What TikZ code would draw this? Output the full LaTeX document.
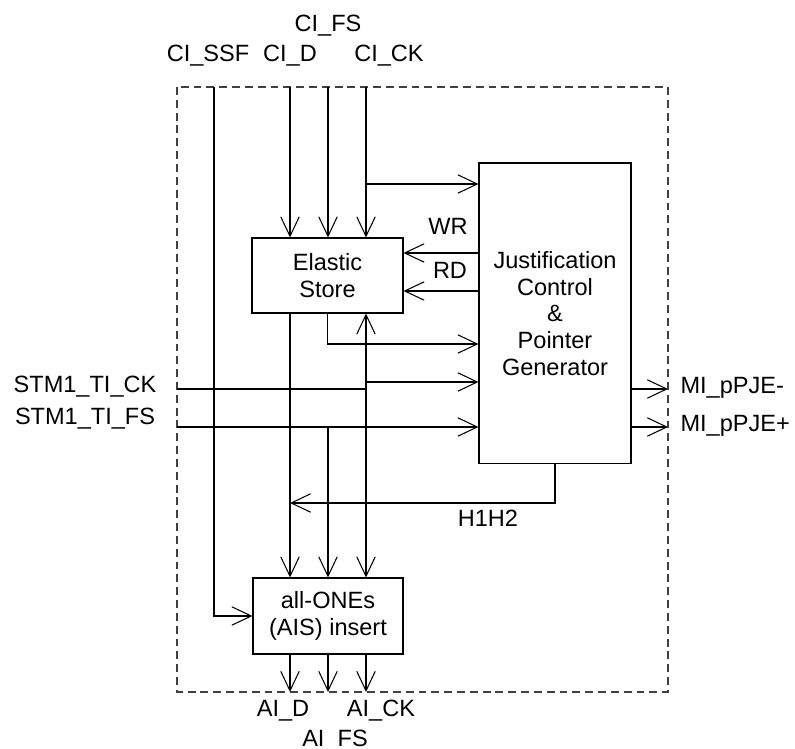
\documentclass[tikz,border=0pt]{standalone}
\usepackage{fontspec}
\setmainfont{Liberation Sans}
\usetikzlibrary{arrows.meta,positioning}

\begin{document}
\begin{tikzpicture}[x=0.02cm,y=-0.02cm,>={Straight Barb[length=3.9mm,width=3.7mm]},line width=0.6pt]
 \tikzstyle{blk}=[rectangle,draw,line width=0.6pt,align=center,font=\fontsize{13.4}{15.3}\selectfont,inner sep=0pt]
 \tikzstyle{sig}=[font=\fontsize{13.4}{15.3}\selectfont,inner sep=0pt,anchor=base]
 \useasboundingbox (0,0) rectangle (795,749);
 % frame of the block
 \draw[dash pattern=on 4.5pt off 2.8pt,black!75] (177,87) rectangle (668,692);
 \coordinate (ssfin) at (214,87);
 \coordinate (din) at (290,87);
 \coordinate (fsin) at (328,87);
 \coordinate (ckin) at (366,87);
 \coordinate (tickin) at (177,389);
 \coordinate (tifsin) at (177,427);
 \coordinate (pjem) at (668,389);
 \coordinate (pjep) at (668,427);
 \coordinate (aid) at (290,692);
 \coordinate (aifs) at (328,692);
 \coordinate (aick) at (366,692);
 % blocks
 \node[blk,minimum width=3.02cm,minimum height=1.5cm] (es) at (327.5,275.5) {Elastic\\Store};
 \node[blk,minimum width=3.04cm,minimum height=6.02cm] (jc) at (555,313.5) {Justification\\Control\\\&\\Pointer\\Generator};
 \node[blk,minimum width=3cm,minimum height=1.52cm] (ais) at (328,616) {all-ONEs\\(AIS) insert};
 % signal names
 \node[sig] (lfs) at (328,32) {CI\_FS};
 \node[sig] (lssf) at (208,62) {CI\_SSF};
 \node[sig] (ld) at (290,62) {CI\_D};
 \node[sig] (lck) at (389,62) {CI\_CK};
 \node[sig] (ltick) at (85,393) {STM1\_TI\_CK};
 \node[sig] (ltifs) at (85,425) {STM1\_TI\_FS};
 \node[sig,anchor=base west] (lpjem) at (680,394) {MI\_pPJE-};
 \node[sig,anchor=base west] (lpjep) at (680,432) {MI\_pPJE+};
 \node[sig] (lwr) at (448,235) {WR};
 \node[sig] (lrd) at (450,279) {RD};
 \node[sig] (lhh) at (488,527) {H1H2};
 \node[sig] (laid) at (283,717) {AI\_D};
 \node[sig] (laick) at (381,717) {AI\_CK};
 \node[sig] (laifs) at (335,746) {AI\_FS};
 % inputs from the top
 \draw[->] (ssfin) |- (ais.west);
 \draw[->] (din) -- (din |- es.north);
 \draw[->] (fsin) -- (fsin |- es.north);
 \draw[->] (ckin) -- (ckin |- es.north);
 \coordinate (ckbr) at (366,184);
 \draw[->] (ckbr) -- (ckbr -| jc.west);
 % store control and data
 \coordinate (wr) at (0,253);
 \coordinate (rd) at (0,291);
 \draw[->] (jc.west |- wr) -- (es.east |- wr);
 \draw[->] (jc.west |- rd) -- (es.east |- rd);
 \coordinate (esout) at (0,344);
 \draw[->] (es.south) |- (jc.west |- esout);
 \draw[->] (din |- es.south) -- (din |- ais.north);
 % STM1 timing
 \coordinate (ckjn) at (366,389);
 \draw (tickin) -- (ckjn);
 \draw[->] (ckjn) -- (ckjn |- es.south);
 \draw[->] (ckjn) -- (ckjn |- ais.north);
 \coordinate (ckjc) at (366,382);
 \draw[->] (ckjc) -- (ckjc -| jc.west);
 \draw[->] (tifsin) -- (tifsin -| jc.west);
 \coordinate (fsjn) at (328,427);
 \draw[->] (fsjn) -- (fsjn |- ais.north);
 % pointer and outputs
 \coordinate (hh) at (290,503);
 \draw[->] (jc.south) |- (hh);
 \draw[->] (pjem -| jc.east) -- (pjem);
 \draw[->] (pjep -| jc.east) -- (pjep);
 \draw[->] (aid |- ais.south) -- (aid);
 \draw[->] (aifs |- ais.south) -- (aifs);
 \draw[->] (aick |- ais.south) -- (aick);
\end{tikzpicture}
\end{document}
